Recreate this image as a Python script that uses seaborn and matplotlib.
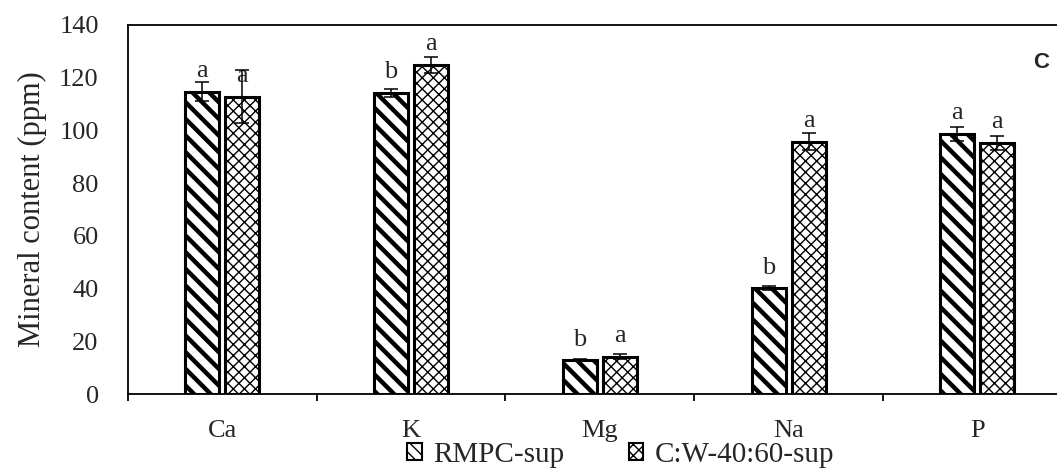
import matplotlib
matplotlib.use("Agg")
import matplotlib.pyplot as plt
import seaborn as sns
import pandas as pd
import numpy as np
from matplotlib.container import BarContainer
from matplotlib.patches import Patch
from matplotlib.ticker import FixedLocator

minerals = ["Ca", "K", "Mg", "Na", "P"]
series = ["RMPC-sup", "C:W-40:60-sup"]
rmpc_vals = [114.6, 114.2, 12.9, 40.2, 98.6]
cw_vals = [112.7, 124.8, 14.2, 95.6, 95.2]
rmpc_err = [3.6, 1.4, 0.3, 0.8, 2.5]
cw_err = [10.0, 2.9, 0.8, 3.2, 2.5]
rmpc_letters = ["a", "b", "b", "b", "a"]
cw_letters = ["a", "a", "a", "a", "a"]

sns.set_style("white")
plt.rcParams["font.family"] = ["Liberation Serif", "DejaVu Serif"]
plt.rcParams["hatch.linewidth"] = 1.0

df = pd.DataFrame({
    "Mineral": minerals * 2,
    "Series": [series[0]] * 5 + [series[1]] * 5,
    "Value": rmpc_vals + cw_vals,
})

fig = plt.figure(figsize=(10.57, 4.68), dpi=100)
ax = fig.add_axes([0.121, 0.158, 0.893, 0.789])

sns.barplot(data=df, x="Mineral", y="Value", hue="Series", order=minerals,
            hue_order=series, palette=["white", "white"], edgecolor="black",
            linewidth=2.2, errorbar=None, width=0.424, gap=0.15, ax=ax,
            legend=False)

hatches = ["\\\\", "xxx"]
errs = [rmpc_err, cw_err]
letters = [rmpc_letters, cw_letters]
vals = [rmpc_vals, cw_vals]
containers = [c for c in ax.containers if isinstance(c, BarContainer)]
for s, cont in enumerate(containers):
    for i, bar in enumerate(cont.patches):
        bar.set_hatch(hatches[s])
        try:
            bar.set_hatch_linewidth(3.2 if s == 0 else 1.0)
        except Exception:
            pass
        cx = bar.get_x() + bar.get_width() / 2
        v = vals[s][i]
        e = errs[s][i]
        ax.errorbar(cx, v, yerr=e, fmt="none", ecolor="black", elinewidth=1.1,
                    capsize=5, capthick=1.1, zorder=5)
        ax.text(cx, v + 5.5, letters[s][i], ha="center", va="baseline",
                fontsize=19, zorder=4)

ax.set_ylim(0, 140)
ax.set_xlim(-0.5, 4.5)
ax.set_yticks(np.arange(0, 141, 20))
ax.xaxis.set_minor_locator(FixedLocator(np.arange(-0.5, 5.0, 1.0)))
ax.set_xlabel("")
ax.set_ylabel("Mineral content (ppm)", fontsize=22, labelpad=9)
ax.tick_params(axis="y", labelsize=19, length=0, pad=21)
ax.tick_params(axis="x", which="major", labelsize=19, length=0, pad=19)
ax.tick_params(axis="x", which="minor", length=5, width=1.3, direction="out",
               color="black", bottom=True)
for sp in ax.spines.values():
    sp.set_color("black")
    sp.set_linewidth(1.3)

fig.text(1033 / 1057, 1 - 63 / 468, "C", fontsize=16, fontweight="bold",
         family="Liberation Sans", ha="left", va="center")

handles = [Patch(facecolor="white", edgecolor="black", hatch="\\\\\\", linewidth=1.5),
           Patch(facecolor="white", edgecolor="black", hatch="xxx", linewidth=1.5)]
fig.legend(handles, series, loc="center", bbox_to_anchor=(621 / 1057, 1 - 455 / 468),
           ncol=2, frameon=False, fontsize=21, handlelength=0.5,
           handleheight=0.5, handletextpad=0.4, columnspacing=2.2, borderpad=0)

fig.savefig("out.png", dpi=100)
